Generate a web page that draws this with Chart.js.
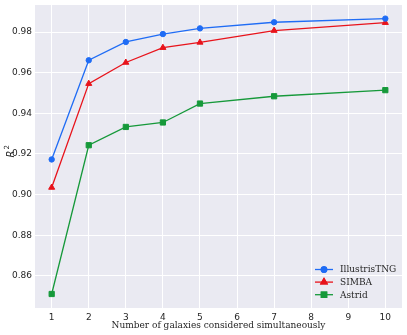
<!DOCTYPE html>
<html>
<head>
<meta charset="utf-8">
<script src="https://cdn.jsdelivr.net/npm/chart.js@4/dist/chart.umd.min.js"></script>
<style>
  html, body { margin: 0; padding: 0; background: #fff; }
  #wrap { width: 407px; height: 335px; }
</style>
</head>
<body>
<div id="wrap"><canvas id="r2Chart" width="407" height="335"></canvas></div>
<script>
// data
const galaxyCounts = [1, 2, 3, 4, 5, 7, 10];
const tngR2 = [0.9173, 0.9661, 0.9751, 0.9790, 0.9818, 0.9848, 0.9866];
const simbaR2 = [0.9035, 0.9546, 0.9650, 0.9723, 0.9749, 0.9807, 0.9846];
const astridR2 = [0.8511, 0.9243, 0.9333, 0.9355, 0.9448, 0.9484, 0.9514];
const xTicks = [1, 2, 3, 4, 5, 6, 7, 8, 9, 10];
const yTicks = [0.86, 0.88, 0.90, 0.92, 0.94, 0.96, 0.98];

const seriesNames = ['IllustrisTNG', 'SIMBA', 'Astrid'];
const seriesColors = ['#1f6cf5', '#e8131b', '#16993a'];
const seriesMarkers = ['circle', 'triangle', 'rect'];
const markerSizes = [2.7, 3.5, 3.7];

const tickFont = { family: 'DejaVu Sans', size: 9 };
const serifFont = '9px "DejaVu Serif"';

function toPoints(values) {
    return galaxyCounts.map((x, i) => ({ x: x, y: values[i] }));
}

function makeDataset(i, values) {
    return {
        label: seriesNames[i],
        data: toPoints(values),
        borderColor: seriesColors[i],
        backgroundColor: seriesColors[i],
        borderWidth: 1.3,
        pointStyle: seriesMarkers[i],
        pointRadius: markerSizes[i],
        pointBorderWidth: 1,
        tension: 0
    };
}

// axis titles + legend drawn by hand so they sit where matplotlib put them
const extrasPlugin = {
    id: 'extras',
    beforeDraw(chart) {
        const { ctx, chartArea } = chart;
        ctx.save();
        ctx.fillStyle = '#eaeaf2';
        ctx.fillRect(chartArea.left, chartArea.top, chartArea.right - chartArea.left, chartArea.bottom - chartArea.top);
        ctx.restore();
    },
    afterDraw(chart) {
        const { ctx, chartArea } = chart;
        ctx.save();
        ctx.fillStyle = '#262626';

        // x label
        ctx.font = serifFont;
        ctx.textAlign = 'center';
        ctx.textBaseline = 'middle';
        ctx.fillText('Number of galaxies considered simultaneously', (chartArea.left + chartArea.right) / 2, 326);

        // y label R^2
        ctx.save();
        ctx.translate(10, 152);
        ctx.rotate(-Math.PI / 2);
        ctx.textBaseline = 'middle';
        ctx.textAlign = 'left';
        ctx.font = 'italic 10px "DejaVu Sans"';
        const rw = ctx.measureText('R').width;
        ctx.fillText('R', -rw / 2 - 2, 1);
        ctx.font = '7px "DejaVu Sans"';
        ctx.fillText('2', rw / 2 - 1, -3);
        ctx.restore();

        // legend
        chart.data.datasets.forEach((ds, i) => {
            const y = 269.5 + i * 12.6;
            ctx.strokeStyle = ds.borderColor;
            ctx.lineWidth = 1.3;
            ctx.beginPath();
            ctx.moveTo(315, y);
            ctx.lineTo(333, y);
            ctx.stroke();
            Chart.helpers.drawPoint(ctx, {
                pointStyle: ds.pointStyle,
                radius: ds.pointRadius,
                borderWidth: 1
            }, 324, y);
            ctx.fillStyle = ds.borderColor;
            ctx.fill();
            ctx.stroke();
            ctx.fillStyle = '#262626';
            ctx.font = serifFont;
            ctx.textAlign = 'left';
            ctx.fillText(ds.label, 340, y + 0.5);
        });
        ctx.restore();
    }
};

new Chart(document.getElementById('r2Chart'), {
    type: 'line',
    data: {
        datasets: [
            makeDataset(0, tngR2),
            makeDataset(1, simbaR2),
            makeDataset(2, astridR2)
        ]
    },
    options: {
        responsive: false,
        animation: false,
        layout: { padding: { top: 4, right: 4, left: 0, bottom: 0 } },
        plugins: {
            legend: { display: false },
            tooltip: { enabled: false }
        },
        scales: {
            x: {
                type: 'linear',
                min: 0.55,
                max: 10.45,
                afterFit: (axis) => {
                    axis.height = 27;
                    axis.paddingLeft = 0;
                    axis.paddingRight = 0;
                },
                afterBuildTicks: (axis) => { axis.ticks = xTicks.map(v => ({ value: v })); },
                ticks: {
                    font: tickFont,
                    color: '#262626',
                    padding: 4,
                    maxRotation: 0,
                    callback: (v) => String(v)
                },
                grid: { color: '#ffffff', lineWidth: 1, drawTicks: false },
                border: { display: false }
            },
            y: {
                min: 0.8442,
                max: 0.9933,
                afterFit: (axis) => {
                    axis.width = 35;
                    axis.paddingTop = 0;
                    axis.paddingBottom = 0;
                },
                afterBuildTicks: (axis) => { axis.ticks = yTicks.map(v => ({ value: v })); },
                ticks: {
                    font: tickFont,
                    color: '#262626',
                    padding: 3,
                    callback: (v) => v.toFixed(2)
                },
                grid: { color: '#ffffff', lineWidth: 1, drawTicks: false },
                border: { display: false }
            }
        }
    },
    plugins: [extrasPlugin]
});
</script>
</body>
</html>
